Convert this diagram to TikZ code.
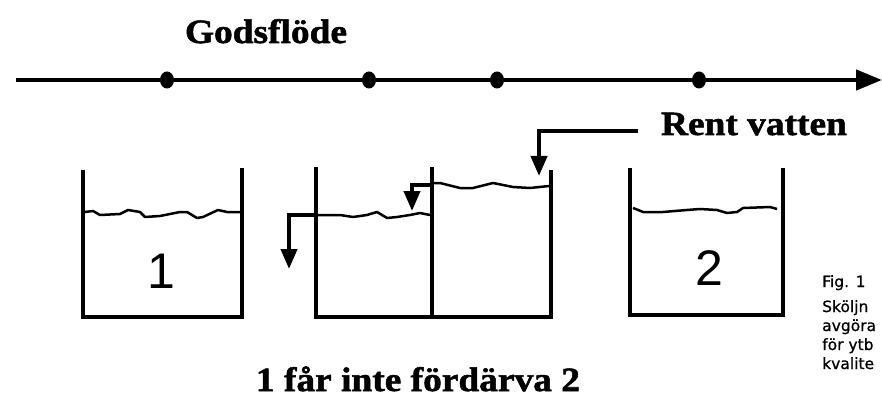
\documentclass[tikz,border=0pt]{standalone}
\usepackage{fontspec}
\setmainfont{Liberation Serif}
\newfontfamily\headfont[FakeStretch=1.1,FakeBold=1.5]{Liberation Serif}
\newfontfamily\capfont[FakeBold=0.8]{DejaVu Sans}
\newfontfamily\numfont{Liberation Sans}
\usetikzlibrary{arrows.meta,shapes.geometric}
\begin{document}
\begin{tikzpicture}[x=1pt,y=-1pt,
  wall/.style={line width=4pt,line join=miter},
  water/.style={line width=2.5pt,line join=round},
  pipe/.style={line width=4pt,line join=miter,-{Triangle[width=16pt,length=20pt]}},
  flowline/.style={line width=4.5pt,-{Triangle[width=20pt,length=26pt]}},
  flowdot/.style={ellipse,fill=black,inner sep=0pt,minimum width=14pt,minimum height=17pt},
  headtext/.style={font=\headfont\bfseries\fontsize{34}{34}\selectfont,inner sep=0pt},
  captext/.style={font=\capfont\fontsize{15.5}{15.5}\selectfont,inner sep=0pt,anchor=base west},
  numtext/.style={font=\numfont\fontsize{50}{50}\selectfont,inner sep=0pt,anchor=base}]
\clip (0,0) rectangle (882,398);
\fill[white] (0,0) rectangle (882,398);

% flow line
\coordinate (fs) at (16,80);
\coordinate (fe) at (882,80);
\draw[flowline] (fs) -- (fe);
\node[flowdot] (d1) at (167,80) {};
\node[flowdot] (d2) at (369,80) {};
\node[flowdot] (d3) at (497,80) {};
\node[flowdot] (d4) at (699,80) {};
\node[headtext,anchor=base] (gods) at (266,43) {Godsflöde};

% tank 1
\draw[wall] (83,170) -- (83,317) -- (242,317) -- (242,168);
\draw[water] (85,212) -- (93,211) -- (100,215) -- (120,214) -- (128,210) -- (140,212) -- (145,217) -- (160,216) -- (180,212) -- (187,212) -- (197,218) -- (203,217) -- (218,210) -- (227,212) -- (240,212);
\node[numtext] (n1) at (161,288) {1};

% middle double tank
\draw[wall] (316,167) -- (316,317) -- (551,317) -- (551,170);
\draw[wall] (432,167) -- (432,317);
\draw[water] (318,215) -- (340,215) -- (353,217) -- (367,215) -- (377,212) -- (387,218) -- (397,217) -- (410,215) -- (420,213) -- (430,215);
\draw[water] (434,183) -- (440,183) -- (460,188) -- (473,188) -- (493,183) -- (513,187) -- (530,188) -- (549,186);

% overflow right -> left compartment
\coordinate (o1s) at (432,185);
\coordinate (o1c) at (412,185);
\coordinate (o1e) at (412,211);
\draw[pipe] (o1s) -- (o1c) -- (o1e);

% outflow from left compartment
\coordinate (o2s) at (316,215);
\coordinate (o2c) at (289,215);
\coordinate (o2e) at (289,269);
\draw[pipe] (o2s) -- (o2c) -- (o2e);

% clean water inlet
\node[headtext,anchor=base] (rent) at (754,135) {Rent vatten};
\coordinate (rs) at (638,131);
\coordinate (rc) at (539,131);
\coordinate (re) at (539,176);
\draw[pipe] (rs) -- (rc) -- (re);

% tank 2
\draw[wall] (630,168) -- (630,315) -- (783,315) -- (783,168);
\draw[water] (633,208) -- (643,212) -- (663,212) -- (687,210) -- (700,209) -- (717,210) -- (727,213) -- (737,212) -- (743,208) -- (770,207) -- (777,209);
\node[numtext] (n2) at (709,285) {2};

% bottom text
\node[headtext,anchor=base] (rule) at (418,391) {1 får inte fördärva 2};

% caption, as far as the picture shows it
\node[captext] (c1) at (822,287) {Fig. 1};
\node[captext] (c2) at (822,312) {Sköljn};
\node[captext] (c3) at (822,331) {avgöra};
\node[captext] (c4) at (822,350) {för ytb};
\node[captext] (c5) at (822,369) {kvalite};
\end{tikzpicture}
\end{document}
